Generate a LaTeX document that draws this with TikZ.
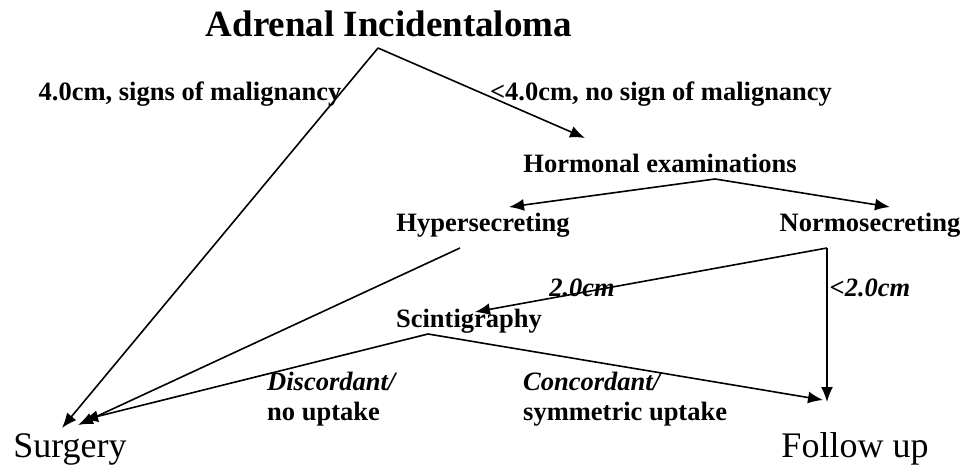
\documentclass[tikz,border=0pt]{standalone}
\usepackage{fontspec}
\setmainfont{Liberation Serif}
\usetikzlibrary{arrows.meta}
\newcommand{\labfont}{\fontsize{26.5}{30}\selectfont\bfseries}
\tikzset{
  titlenode/.style={font=\fontsize{37}{40}\selectfont\bfseries, inner sep=0pt, anchor=base},
  stepnode/.style={font=\labfont, inner sep=0pt, anchor=base},
  cmnode/.style={stepnode, font=\labfont\itshape},
  branchnode/.style={font=\labfont, inner sep=0pt, anchor=base west, align=left},
  endnode/.style={font=\fontsize{36}{40}\selectfont, inner sep=0pt, anchor=base},
  flowarrow/.style={-{Latex[length=15pt, width=12pt]}, line width=1.6pt, color=black},
}

\begin{document}
\begin{tikzpicture}[x=1pt, y=-1pt]
  \useasboundingbox (0,0) rectangle (967,468);
  % texts
  \node[titlenode] (adrenal) at (389,37) {Adrenal Incidentaloma};
  \node[stepnode] (big) at (190,101) {4.0cm, signs of malignancy};
  \node[stepnode] (small) at (661,101) {<4.0cm, no sign of malignancy};
  \node[stepnode] (hormonal) at (660,172) {Hormonal examinations};
  \node[stepnode] (hyper) at (483,231) {Hypersecreting};
  \node[stepnode] (normo) at (870,231) {Normosecreting};
  \node[cmnode] (ge2) at (582,296) {2.0cm};
  \node[cmnode] (lt2) at (870,296) {<2.0cm};
  \node[stepnode] (scint) at (469,327) {Scintigraphy};
  \node[branchnode] (disc) at (267,420) {\textit{Discordant/}\\no uptake};
  \node[branchnode] (conc) at (523,420) {\textit{Concordant/}\\symmetric uptake};
  \node[endnode] (surgery) at (70,457) {Surgery};
  \node[endnode] (follow) at (855,457) {Follow up};
  % branch points and arrow tips
  \coordinate (adrenal0) at (378,48);
  \coordinate (hormonal0) at (715,179);
  \coordinate (hyper0) at (460,248);
  \coordinate (normo0) at (827,248);
  \coordinate (scint0) at (428,334);
  \coordinate (hormonal1) at (585,138);
  \coordinate (hyper1) at (509,207);
  \coordinate (normo1) at (890,207);
  \coordinate (scint1) at (475,312);
  \coordinate (surgery1) at (62,428);
  \coordinate (surgery2) at (78,425);
  \coordinate (surgery3) at (83,420);
  \coordinate (follow1) at (827,402);
  \coordinate (follow2) at (823,400);
  \foreach \a/\b in {adrenal0/surgery1,adrenal0/hormonal1,hormonal0/hyper1,hormonal0/normo1,
                     hyper0/surgery2,normo0/scint1,normo0/follow1,scint0/surgery3,scint0/follow2}
    \draw[flowarrow] (\a) -- (\b);
\end{tikzpicture}
\end{document}
